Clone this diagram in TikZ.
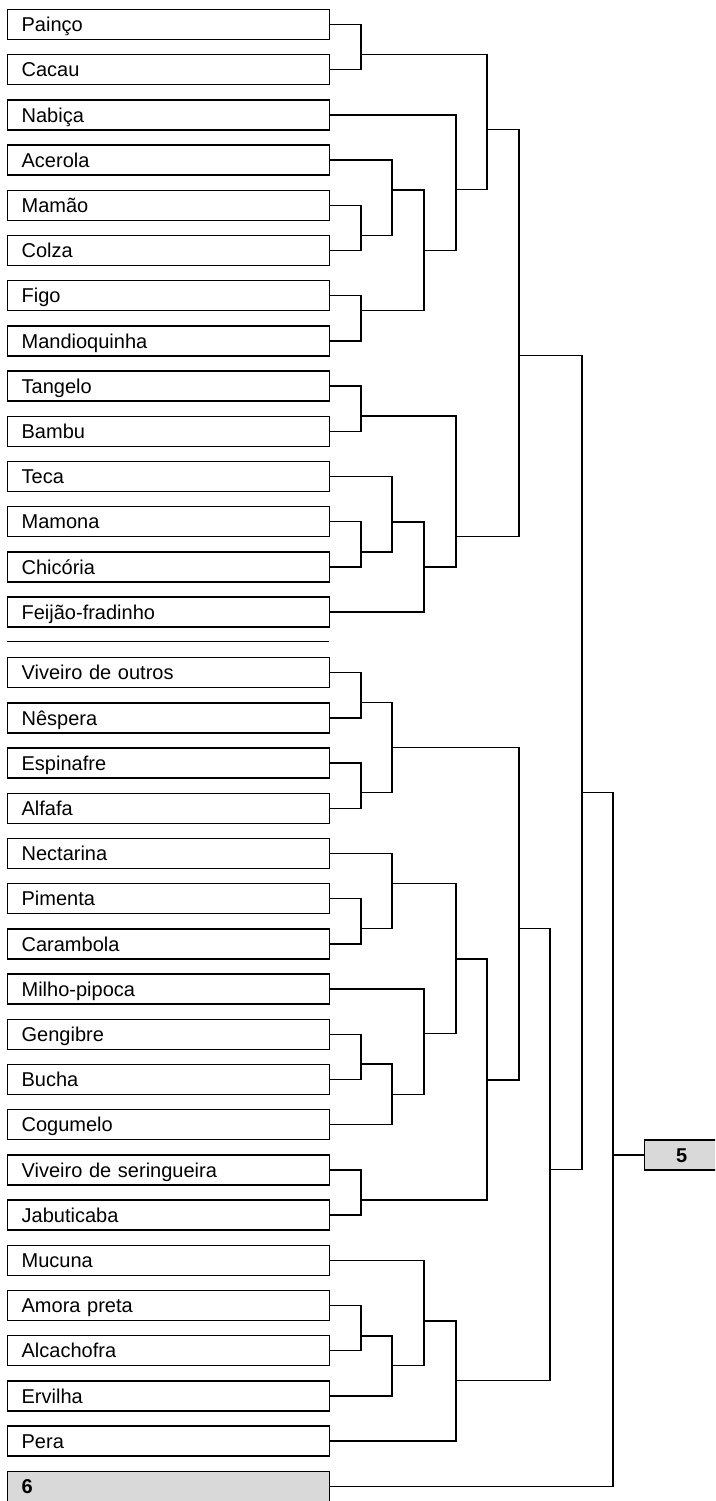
\documentclass[tikz,border=0pt]{standalone}
\usepackage{fontspec}
\setmainfont{Liberation Sans}
\usepackage{tikz}
\definecolor{kasten}{RGB}{217,217,217}

\begin{document}
\begin{tikzpicture}[x=1pt, y=-1pt, line width=1.3pt,
	leaf/.style={draw, anchor=west, inner xsep=14pt, inner ysep=0pt,
		text width=294pt, align=left, minimum height=30pt,
		text height=14.3pt, text depth=0pt, font=\fontsize{20}{24}\selectfont},
	gruppe/.style={leaf, fill=kasten, font=\fontsize{20}{24}\selectfont\bfseries},
	summe/.style={draw, fill=kasten, anchor=west, minimum width=74pt, minimum height=30pt,
		text height=14.3pt, text depth=0pt, inner sep=0pt, font=\fontsize{20}{24}\selectfont\bfseries}]

	\useasboundingbox (0,0) rectangle (715,1501);
	\clip (0,0) rectangle (715,1501);

	% upper block
	\node[leaf] (painco) at (7,24.5) {Painço};
	\node[leaf] (cacau) at (7,69.7) {Cacau};
	\node[leaf] (nabica) at (7,114.9) {Nabiça};
	\node[leaf] (acerola) at (7,160.1) {Acerola};
	\node[leaf] (mamao) at (7,205.3) {Mamão};
	\node[leaf] (colza) at (7,250.5) {Colza};
	\node[leaf] (figo) at (7,295.7) {Figo};
	\node[leaf] (mandioq) at (7,340.9) {Mandioquinha};
	\node[leaf] (tangelo) at (7,386.1) {Tangelo};
	\node[leaf] (bambu) at (7,431.3) {Bambu};
	\node[leaf] (teca) at (7,476.5) {Teca};
	\node[leaf] (mamona) at (7,521.7) {Mamona};
	\node[leaf] (chicoria) at (7,566.9) {Chicória};
	\node[leaf] (feijao) at (7,612.1) {Feijão-fradinho};

	\draw (7,641.7) -- (329,641.7);

	% lower block
	\node[leaf] (vivout) at (7,672.7) {Viveiro de outros};
	\node[leaf] (nespera) at (7,717.9) {Nêspera};
	\node[leaf] (espinafre) at (7,763.1) {Espinafre};
	\node[leaf] (alfafa) at (7,808.3) {Alfafa};
	\node[leaf] (nectarina) at (7,853.5) {Nectarina};
	\node[leaf] (pimenta) at (7,898.7) {Pimenta};
	\node[leaf] (carambola) at (7,943.9) {Carambola};
	\node[leaf] (milho) at (7,989.1) {Milho-pipoca};
	\node[leaf] (gengibre) at (7,1034.3) {Gengibre};
	\node[leaf] (bucha) at (7,1079.5) {Bucha};
	\node[leaf] (cogumelo) at (7,1124.7) {Cogumelo};
	\node[leaf] (vivser) at (7,1169.9) {Viveiro de seringueira};
	\node[leaf] (jabuticaba) at (7,1215.1) {Jabuticaba};
	\node[leaf] (mucuna) at (7,1260.3) {Mucuna};
	\node[leaf] (amora) at (7,1305.5) {Amora preta};
	\node[leaf] (alcachofra) at (7,1350.7) {Alcachofra};
	\node[leaf] (ervilha) at (7,1395.9) {Ervilha};
	\node[leaf] (pera) at (7,1441.1) {Pera};
	\node[gruppe] (six) at (7,1486.3) {6};

	\node[summe] (five) at (644,1155) {5};

	% joints
	\coordinate (pc) at (361,54.7);
	\coordinate (mc) at (361,235.7);
	\coordinate (amc) at (392,190);
	\coordinate (fm) at (361,310.7);
	\coordinate (amcfm) at (424,250.7);
	\coordinate (nab) at (456,189.7);
	\coordinate (grpA) at (487,129.7);
	\coordinate (tb) at (361,416);
	\coordinate (mch) at (361,552);
	\coordinate (tmch) at (392,522);
	\coordinate (tmchf) at (424,567);
	\coordinate (grpB) at (456,536.7);
	\coordinate (oben) at (519,355.7);

	\coordinate (vn) at (361,702.7);
	\coordinate (ea) at (361,792.7);
	\coordinate (vnea) at (392,747.7);
	\coordinate (pca) at (361,928.7);
	\coordinate (npca) at (392,883.3);
	\coordinate (gb) at (361,1064);
	\coordinate (gbc) at (392,1094.3);
	\coordinate (mgbc) at (424,1033.3);
	\coordinate (mitte) at (456,959);
	\coordinate (vj) at (361,1200);
	\coordinate (mittevj) at (487,1080);
	\coordinate (grpC) at (519,928.7);
	\coordinate (aa) at (361,1336);
	\coordinate (aae) at (392,1365.7);
	\coordinate (maae) at (424,1321);
	\coordinate (grpD) at (456,1380.7);
	\coordinate (unten) at (550,1169.3);
	\coordinate (alle) at (582,792.7);
	\coordinate (wurzel) at (613,1155);

	% brackets
	\draw (painco.east) -| (pc) |- (cacau.east);
	\draw (mamao.east) -| (mc) |- (colza.east);
	\draw (acerola.east) -| (amc) |- (mc);
	\draw (figo.east) -| (fm) |- (mandioq.east);
	\draw (amc) -| (amcfm) |- (fm);
	\draw (nabica.east) -| (nab) |- (amcfm);
	\draw (pc) -| (grpA) |- (nab);
	\draw (tangelo.east) -| (tb) |- (bambu.east);
	\draw (mamona.east) -| (mch) |- (chicoria.east);
	\draw (teca.east) -| (tmch) |- (mch);
	\draw (tmch) -| (tmchf) |- (feijao.east);
	\draw (tb) -| (grpB) |- (tmchf);
	\draw (grpA) -| (oben) |- (grpB);

	\draw (vivout.east) -| (vn) |- (nespera.east);
	\draw (espinafre.east) -| (ea) |- (alfafa.east);
	\draw (vn) -| (vnea) |- (ea);
	\draw (pimenta.east) -| (pca) |- (carambola.east);
	\draw (nectarina.east) -| (npca) |- (pca);
	\draw (gengibre.east) -| (gb) |- (bucha.east);
	\draw (gb) -| (gbc) |- (cogumelo.east);
	\draw (milho.east) -| (mgbc) |- (gbc);
	\draw (npca) -| (mitte) |- (mgbc);
	\draw (vivser.east) -| (vj) |- (jabuticaba.east);
	\draw (mitte) -| (mittevj) |- (vj);
	\draw (vnea) -| (grpC) |- (mittevj);
	\draw (amora.east) -| (aa) |- (alcachofra.east);
	\draw (aa) -| (aae) |- (ervilha.east);
	\draw (mucuna.east) -| (maae) |- (aae);
	\draw (maae) -| (grpD) |- (pera.east);
	\draw (grpC) -| (unten) |- (grpD);

	\draw (oben) -| (alle) |- (unten);
	\draw (alle) -| (wurzel) |- (six.east);
	\draw (wurzel) -- (five.west);

\end{tikzpicture}
\end{document}
